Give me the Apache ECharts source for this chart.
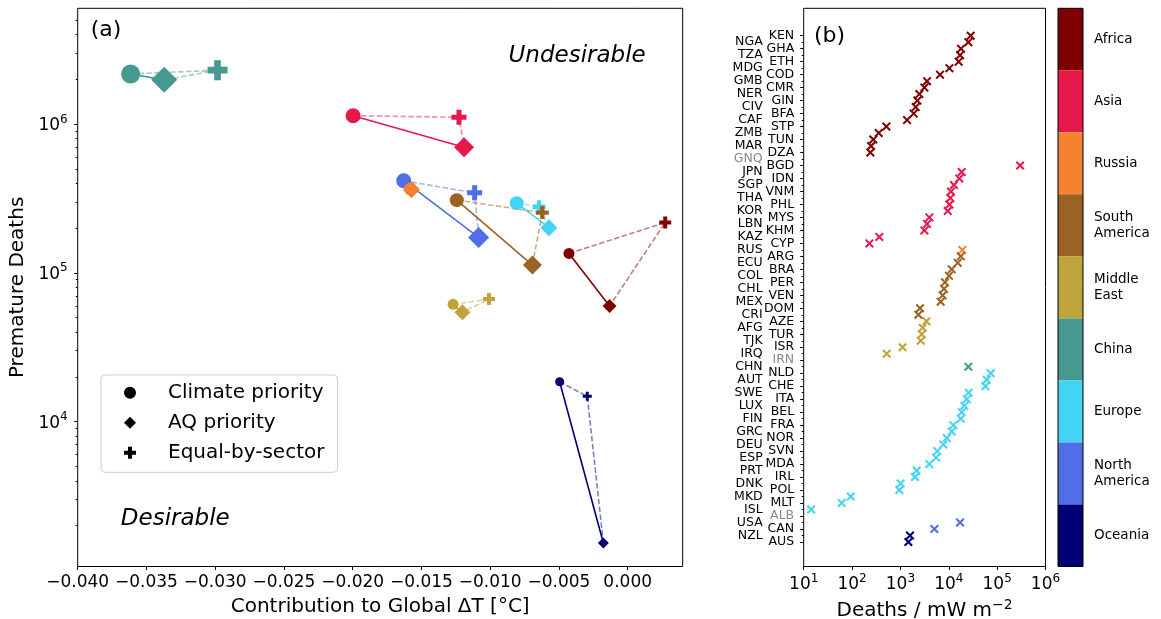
<!DOCTYPE html>
<html><head><meta charset="utf-8">
<script src="https://cdn.jsdelivr.net/npm/echarts@6/dist/echarts.min.js"></script>
<style>html,body{margin:0;padding:0;background:#fff}#c{width:1161px;height:619px}</style>
</head><body><div id="c"></div>
<script>
// ---------- Panel (a) data ----------
const regions = ['Africa','Asia','Russia','South America','Middle East','China','Europe','North America','Oceania'];
const regionLabels = ['Africa','Asia','Russia','South\nAmerica','Middle\nEast','China','Europe','North\nAmerica','Oceania'];
const climateDT     = [-0.00427, -0.01997, -0.0158, -0.01243, -0.0127, -0.03615, -0.00807, -0.01629, -0.00495];
const climateDeaths = [1.35e5, 1.137e6, 3.66e5, 3.08e5, 6.14e4, 2.17e6, 2.94e5, 4.16e5, 1.855e4];
const aqDT          = [-0.00132, -0.0119, -0.01573, -0.00693, -0.01202, -0.03371, -0.00573, -0.01084, -0.00177];
const aqDeaths      = [5.98e4, 6.97e5, 3.62e5, 1.128e5, 5.43e4, 1.98e6, 2.01e5, 1.73e5, 1.53e3];
const equalDT       = [0.00273, -0.01227, -0.0157, -0.00621, -0.01009, -0.02983, -0.00645, -0.01113, -0.00294];
const equalDeaths   = [2.18e5, 1.11e6, 3.64e5, 2.54e5, 6.67e4, 2.30e6, 2.78e5, 3.45e5, 1.48e4];
const xTicksA = [-0.040, -0.035, -0.030, -0.025, -0.020, -0.015, -0.010, -0.005, 0.000];
const yTicksA = [1e4, 1e5, 1e6];
const yMinorA = [2e3,3e3,4e3,5e3,6e3,7e3,8e3,9e3,2e4,3e4,4e4,5e4,6e4,7e4,8e4,9e4,2e5,3e5,4e5,5e5,6e5,7e5,8e5,9e5,2e6,3e6,4e6,5e6];

// ---------- Panel (b) data ----------
const countries = ['KEN','NGA','GHA','TZA','ETH','MDG','COD','GMB','CMR','NER','GIN','CIV','BFA','CAF','STP','ZMB','TUN','MAR','DZA','GNQ',
 'BGD','JPN','IDN','SGP','VNM','THA','PHL','KOR','MYS','LBN','KHM','KAZ','CYP',
 'RUS',
 'ARG','ECU','BRA','COL','PER','CHL','VEN','MEX','DOM','CRI',
 'AZE','AFG','TUR','TJK','ISR','IRQ','IRN',
 'CHN',
 'NLD','AUT','CHE','SWE','ITA','LUX','BEL','FIN','FRA','GRC','NOR','DEU','SVN','ESP','MDA','PRT','IRL','DNK','POL','MKD','MLT','ISL','ALB',
 'USA','CAN',
 'NZL','AUS'];
const countryRegion = [0,0,0,0,0,0,0,0,0,0,0,0,0,0,0,0,0,0,0,0,
 1,1,1,1,1,1,1,1,1,1,1,1,1,
 2,
 3,3,3,3,3,3,3,3,3,3,
 4,4,4,4,4,4,4,
 5,
 6,6,6,6,6,6,6,6,6,6,6,6,6,6,6,6,6,6,6,6,6,6,6,
 7,7,
 8,8];
const deathsPerMW = [28400,25400,17900,17100,16000,10300,6590,3550,3130,2460,2240,2070,1880,1370,512,356,275,247,239,null,
 298000,18500,16500,12800,11100,10800,10300,9500,3960,3550,3130,366,228,
 19100,
 17700,15300,11500,10100,8360,7980,7480,6800,2540,2350,
 3450,2890,2760,2630,1110,520,null,
 25400,
 73600,60800,57100,25800,23500,21000,18500,17700,12400,11500,9080,7730,5800,5450,3960,2170,2000,1010,951,93.7,61.1,14.2,null,
 17100,5040,
 1580,1460];
const xTicksB = [1e1, 1e2, 1e3, 1e4, 1e5, 1e6];

// ---------- styles ----------
const regionColors = ['#800000','#e6194b','#f58231','#9a6324','#bfa33b','#469990','#42d4f4','#4f6ee8','#000075'];
const markerSizes = [[11,14,12],[15,20,15],[13,17,13],[14,19,13],[11,16,12],[19,26,20],[14,17,13],[15,21,15],[9,11,9]];
const FONT = 'DejaVu Sans';
const plusPath = 'path://M1,0H2V1H3V2H2V3H1V2H0V1H1Z';
const crossPath = 'path://M0,1.6L1.6,0L10,8.4L8.4,10Z M8.4,0L10,1.6L1.6,10L0,8.4Z';

function hexA(hex, a) {
  const n = parseInt(hex.slice(1), 16);
  return 'rgba(' + ((n >> 16) & 255) + ',' + ((n >> 8) & 255) + ',' + (n & 255) + ',' + a + ')';
}
const supRich = {
  b: {fontSize: 17, fontFamily: FONT, color: '#000', padding: [3, 0, 0, 0]},
  s: {fontSize: 12, fontFamily: FONT, color: '#000', padding: [0, 0, 9, 0]}
};
const supFmt = v => '{b|10}{s|' + Math.round(Math.log10(v)) + '}';
const minusFmt = v => (v < -1e-12 ? '\u2212' : '') + Math.abs(v).toFixed(3);

const evenRows = countries.map((c, i) => i).filter(i => i % 2 === 0);
const oddRows = countries.map((c, i) => i).filter(i => i % 2 === 1);
const countryFmt = v => {
  const i = Math.round(v);
  return deathsPerMW[i] == null ? '{g|' + countries[i] + '}' : '{k|' + countries[i] + '}';
};
const countryRich = {
  k: {fontSize: 12.5, lineHeight: 11, fontFamily: FONT, color: '#000'},
  g: {fontSize: 12.5, lineHeight: 11, fontFamily: FONT, color: '#888'}
};

const series = [];
const order = [8, 7, 6, 5, 4, 3, 2, 1, 0];
order.forEach(i => {
  const c = regionColors[i];
  series.push({
    type: 'line', xAxisIndex: 0, yAxisIndex: 0, silent: true, symbol: 'none', z: 2,
    data: [[climateDT[i], climateDeaths[i]], [equalDT[i], equalDeaths[i]], [aqDT[i], aqDeaths[i]]],
    lineStyle: {color: hexA(c, 0.5), width: 1.6, type: [5.5, 2.4]}
  });
  series.push({
    type: 'line', xAxisIndex: 0, yAxisIndex: 0, silent: true, symbol: 'none', z: 2,
    data: [[climateDT[i], climateDeaths[i]], [aqDT[i], aqDeaths[i]]],
    lineStyle: {color: c, width: 1.6}
  });
});
order.forEach(i => {
  const c = regionColors[i];
  const s = markerSizes[i];
  series.push({
    type: 'scatter', xAxisIndex: 0, yAxisIndex: 0, silent: true, z: 3,
    itemStyle: {color: c, opacity: 1},
    data: [
      {value: [climateDT[i], climateDeaths[i]], symbol: 'circle', symbolSize: s[0]},
      {value: [aqDT[i], aqDeaths[i]], symbol: 'diamond', symbolSize: s[1]},
      {value: [equalDT[i], equalDeaths[i]], symbol: plusPath, symbolSize: s[2]}
    ]
  });
});
[['Climate priority', 'circle'], ['AQ priority', 'diamond'], ['Equal-by-sector', plusPath]].forEach(([n, sym]) => {
  series.push({type: 'scatter', name: n, symbol: sym, xAxisIndex: 0, yAxisIndex: 0, data: [], itemStyle: {color: '#000', opacity: 1}});
});
regions.forEach((r, ri) => {
  const data = [];
  countries.forEach((c, i) => {
    if (countryRegion[i] === ri && deathsPerMW[i] != null) data.push([deathsPerMW[i], i]);
  });
  series.push({
    type: 'scatter', xAxisIndex: 1, yAxisIndex: 2, silent: true, z: 3,
    symbol: crossPath, symbolSize: 9, itemStyle: {color: regionColors[ri], opacity: 1}, data
  });
});
series.push({
  type: 'bar', xAxisIndex: 2, yAxisIndex: 4, silent: true, barWidth: '100%',
  data: regions.map((r, i) => ({value: 1, itemStyle: {color: regionColors[i]}}))
});

const tickStyle = {color: '#000', width: 1};
const noLine = {show: false, onZero: false};
const gridBase = {show: true, borderColor: '#000', borderWidth: 1, containLabel: false, outerBoundsMode: 'none'};
const option = {
  animation: false,
  backgroundColor: '#fff',
  textStyle: {fontFamily: FONT},
  grid: [
    Object.assign({left: 77.7, top: 8.3, width: 605, height: 558.2}, gridBase),
    Object.assign({left: 803.7, top: 8.3, width: 241.8, height: 558.2}, gridBase),
    Object.assign({left: 1058, top: 8.3, width: 25, height: 558.2, z: 5}, gridBase)
  ],
  xAxis: [
    {type: 'value', gridIndex: 0, position: 'bottom', min: -0.04, max: 0.004,
     axisLine: noLine, splitLine: {show: false},
     axisTick: {length: 3.5, lineStyle: tickStyle, customValues: xTicksA},
     axisLabel: {customValues: xTicksA, formatter: minusFmt, fontSize: 17, color: '#000', margin: 8, fontFamily: FONT,
                 showMinLabel: true, showMaxLabel: true, hideOverlap: false},
     name: 'Contribution to Global \u0394T [\u00b0C]', nameLocation: 'middle', nameGap: 29,
     nameTextStyle: {fontSize: 20, color: '#000', fontFamily: FONT}},
    {type: 'log', logBase: 10, gridIndex: 1, position: 'bottom', min: 10, max: 1e6,
     axisLine: noLine, splitLine: {show: false},
     axisTick: {length: 3.5, lineStyle: tickStyle, customValues: xTicksB},
     axisLabel: {customValues: xTicksB, formatter: supFmt, rich: supRich, margin: 6, showMinLabel: true, showMaxLabel: true, hideOverlap: false},
     name: '{n|Deaths / mW m}{s|\u22122}', nameLocation: 'middle', nameGap: 30,
     nameTextStyle: {rich: {n: {fontSize: 20, fontFamily: FONT, color: '#000'}, s: {fontSize: 14, fontFamily: FONT, color: '#000', padding: [0, 0, 11, 0]}}}},
    {type: 'value', gridIndex: 2, min: 0, max: 1, show: false}
  ],
  yAxis: [
    {type: 'log', logBase: 10, gridIndex: 0, position: 'left', min: 1064, max: 5.99e6,
     axisLine: noLine, splitLine: {show: false},
     axisTick: {length: 3.5, lineStyle: tickStyle, customValues: yTicksA},
     axisLabel: {customValues: yTicksA, formatter: supFmt, rich: supRich, margin: 10, showMinLabel: true, showMaxLabel: true, hideOverlap: false},
     name: 'Premature Deaths', nameLocation: 'middle', nameGap: 41,
     nameTextStyle: {fontSize: 20, color: '#000', fontFamily: FONT}},
    {type: 'log', logBase: 10, gridIndex: 0, position: 'left', min: 1064, max: 5.99e6,
     axisLine: noLine, splitLine: {show: false}, axisLabel: {show: false},
     axisTick: {length: 2, lineStyle: tickStyle, customValues: yMinorA}},
    {type: 'value', gridIndex: 1, position: 'left', inverse: true, min: -4.22, max: 81.78,
     axisLine: noLine, splitLine: {show: false},
     axisTick: {length: 3.5, lineStyle: tickStyle, customValues: evenRows},
     axisLabel: {customValues: evenRows, formatter: countryFmt, rich: countryRich, margin: 9.5,
                 showMinLabel: true, showMaxLabel: true, hideOverlap: false}},
    {type: 'value', gridIndex: 1, position: 'left', inverse: true, min: -4.22, max: 81.78,
     axisLine: noLine, splitLine: {show: false},
     axisTick: {length: 2, lineStyle: tickStyle, customValues: oddRows},
     axisLabel: {customValues: oddRows, formatter: countryFmt, rich: countryRich, margin: 41,
                 showMinLabel: true, showMaxLabel: true, hideOverlap: false}},
    {type: 'category', gridIndex: 2, data: regionLabels, inverse: true, position: 'right',
     axisLine: noLine, splitLine: {show: false},
     axisTick: {alignWithLabel: true, length: 3.5, lineStyle: tickStyle},
     axisLabel: {fontSize: 13.5, lineHeight: 16, color: '#000', margin: 11, fontFamily: FONT, interval: 0,
                 showMinLabel: true, showMaxLabel: true}}
  ],
  legend: {
    orient: 'vertical', left: 101, top: 375, selectedMode: false,
    padding: [7.7, 13, 9.6, 23], itemGap: 10, itemWidth: 12, itemHeight: 12,
    borderColor: '#cfcfcf', borderWidth: 1, borderRadius: 4, backgroundColor: 'rgba(255,255,255,0.8)',
    textStyle: {fontSize: 20, lineHeight: 20, color: '#000', fontFamily: FONT, padding: [0, 0, 0, 27]},
    data: [
      {name: 'Climate priority', icon: 'circle'},
      {name: 'AQ priority', icon: 'diamond'},
      {name: 'Equal-by-sector', icon: plusPath}
    ]
  },
  graphic: [
    {type: 'text', x: 90.7, y: 30, style: {text: '(a)', fontSize: 22, fontFamily: FONT, fill: '#000', verticalAlign: 'middle'}},
    {type: 'text', x: 814, y: 36, style: {text: '(b)', fontSize: 22, fontFamily: FONT, fill: '#000', verticalAlign: 'middle'}},
    {type: 'text', x: 508.5, y: 56, style: {text: 'Undesirable', fontSize: 23, fontStyle: 'italic', fontFamily: FONT, fill: '#000', verticalAlign: 'middle'}},
    {type: 'text', x: 120.8, y: 519, style: {text: 'Desirable', fontSize: 23, fontStyle: 'italic', fontFamily: FONT, fill: '#000', verticalAlign: 'middle'}}
  ],
  series
};
const chart = echarts.init(document.getElementById('c'), null, {renderer: 'canvas'});
chart.setOption(option);
</script>
</body></html>
